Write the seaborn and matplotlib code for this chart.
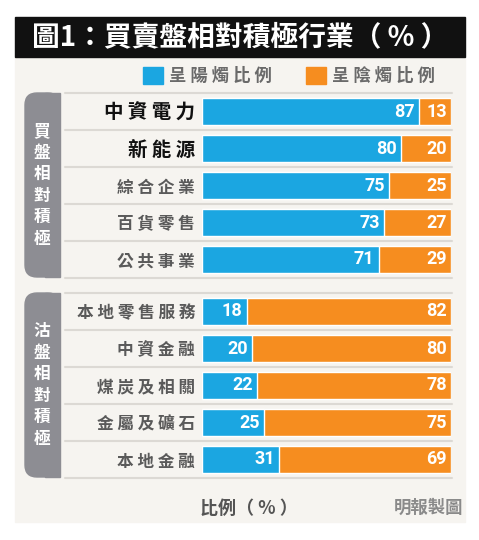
import pandas as pd
import seaborn as sns
from matplotlib import pyplot as plt
from matplotlib.patches import Rectangle, FancyBboxPatch, Patch
from matplotlib import transforms

# data
buy_cats = ["中資電力", "新能源", "綜合企業", "百貨零售", "公共事業"]
buy_yang = [87, 80, 75, 73, 71]
buy_yin = [13, 20, 25, 27, 29]

sell_cats = ["本地零售服務", "中資金融", "煤炭及相關", "金屬及礦石", "本地金融"]
sell_yang = [18, 20, 22, 25, 31]
sell_yin = [82, 80, 78, 75, 69]

legend_labels = ["呈陽燭比例", "呈陰燭比例"]
group_labels = ["買盤相對積極", "沽盤相對積極"]
title = "圖1：買賣盤相對積極行業（ % ）"

BLUE = "#1ba6e1"
ORANGE = "#f68d1f"
PANEL = "#f6f4f0"
TAB = "#8d8d93"

sns.set_theme(style="white")
plt.rcParams["font.family"] = ["Noto Sans CJK TC", "DejaVu Sans"]

W, H = 479, 540
fig = plt.figure(figsize=(W / 100, H / 100), dpi=100)
fig.patch.set_facecolor("white")


def px(x0, y0, x1, y1):
    # pixel box (top-left origin) -> figure fraction rect
    return (x0 / W, 1 - y1 / H, (x1 - x0) / W, (y1 - y0) / H)


# panel + title band
fig.add_artist(Rectangle((15 / W, 1 - 522 / H), 450 / W, 465 / H,
                         transform=fig.transFigure, color=PANEL, zorder=0))
fig.add_artist(Rectangle((15 / W, 1 - 57 / H), 450 / W, 40 / H,
                         transform=fig.transFigure, color="#111111", zorder=1))
fig.text(32 / W, 1 - 37 / H, title, color="white", fontsize=20,
         fontweight="bold", va="center", ha="left")

# legend
handles = [Patch(color=BLUE), Patch(color=ORANGE)]
fig.legend(handles, [" ".join(t) for t in legend_labels], loc="center",
           bbox_to_anchor=(289 / W, 1 - 76 / H), ncol=2, frameon=False,
           handlelength=1.15, handleheight=1.15,
           handletextpad=0.35, columnspacing=2.0, borderpad=0,
           labelcolor="#6a6a6a", prop={"weight": "bold", "size": 12.5})


def draw_group(top, cats, yang, yin, label, big):
    ax = fig.add_axes(px(202, top, 451, top + 185))
    df = pd.DataFrame({"cat": cats, "yang": yang, "yin": yin})
    df["total"] = df["yang"] + df["yin"]
    sns.barplot(data=df, x="total", y="cat", color=ORANGE, saturation=1,
                width=0.73, ax=ax, orient="h")
    sns.barplot(data=df, x="yang", y="cat", color=BLUE, saturation=1,
                width=0.73, ax=ax, orient="h")
    ax.set_xlim(0, 100)
    ax.set_ylim(len(cats) - 0.5, -0.5)
    ax.set_facecolor("none")
    for s in ax.spines.values():
        s.set_visible(False)
    ax.set_xlabel("")
    ax.set_ylabel("")
    ax.set_xticks([])
    ax.set_yticks(range(len(cats)))
    ax.set_yticklabels([" ".join(c) for c in cats])
    ax.tick_params(axis="y", length=0, pad=5)
    for i, t in enumerate(ax.get_yticklabels()):
        if i < big:
            t.set_fontsize(14)
            t.set_color("#111111")
        else:
            t.set_fontsize(12)
            t.set_color("#5a5a5a")
        t.set_fontweight("bold")

    for i, (a, b) in enumerate(zip(df["yang"], df["total"])):
        ax.annotate(str(a), xy=(a, i), xytext=(-3, 0), textcoords="offset points",
                    ha="right", va="center", color="white", fontsize=13,
                    fontweight="bold", family=["Roboto", "DejaVu Sans"])
        ax.annotate(str(b - a), xy=(b, i), xytext=(-3, 0), textcoords="offset points",
                    ha="right", va="center", color="white", fontsize=13,
                    fontweight="bold", family=["Roboto", "DejaVu Sans"])

    # row separators
    tr = transforms.blended_transform_factory(ax.transAxes, ax.transData)
    for k in range(len(cats) + 1):
        ax.plot([-0.55, 1.004], [k - 0.5, k - 0.5], transform=tr, color="#dcd9d4",
                lw=1.5, clip_on=False, zorder=0)

    # grey side tab
    y0, y1 = top, top + 184
    fig.add_artist(FancyBboxPatch((25 / W, 1 - y1 / H), 35 / W, (y1 - y0) / H,
                                  boxstyle="round,pad=0,rounding_size=0.025",
                                  transform=fig.transFigure, color=TAB, zorder=1,
                                  mutation_aspect=W / H))
    fig.add_artist(Rectangle((45 / W, 1 - y1 / H), 15 / W, (y1 - y0) / H,
                             transform=fig.transFigure, color=TAB, zorder=1))
    fig.text(42 / W, 1 - (y0 + y1) / 2 / H, "\n".join(label), color="white",
             fontsize=12, fontweight="bold", ha="center", va="center",
             linespacing=1.25, zorder=2)


draw_group(93, buy_cats, buy_yang, buy_yin, group_labels[0], big=2)
draw_group(293, sell_cats, sell_yang, sell_yin, group_labels[1], big=0)

fig.text(200 / W, 1 - 508 / H, "比例（ % ）", color="#555555", fontsize=13,
         fontweight="bold", ha="left", va="center")
fig.text(463 / W, 1 - 508 / H, "明報製圖", color="#8a8a8a", fontsize=12.5,
         fontweight="bold", ha="right", va="center")

fig.savefig("out.png", dpi=100)
